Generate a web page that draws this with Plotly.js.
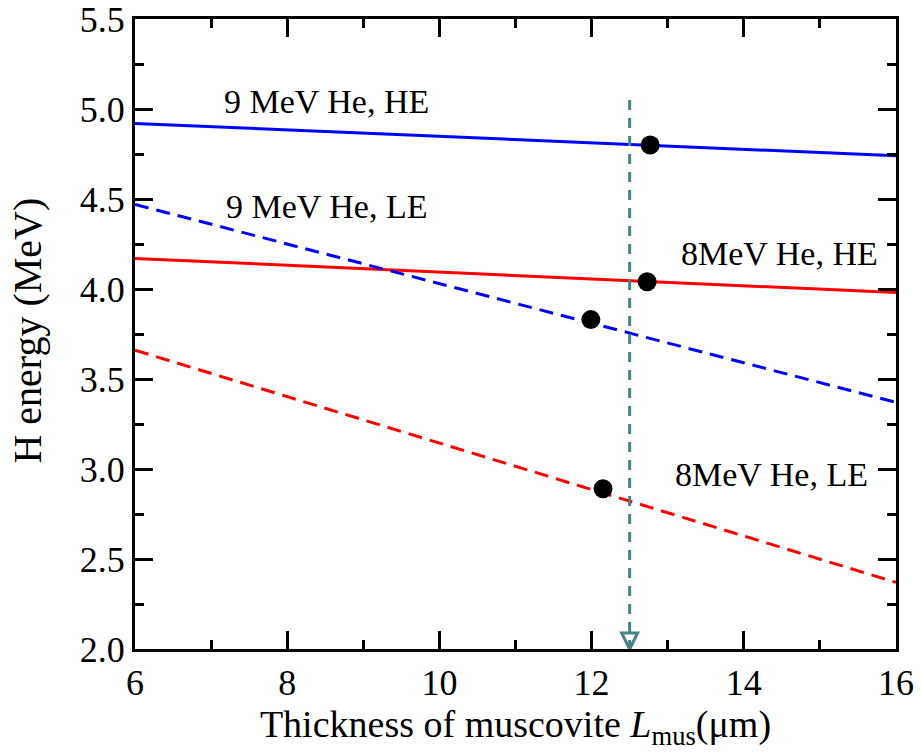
<!DOCTYPE html>
<html><head><meta charset="utf-8">
<script src="https://cdn.plot.ly/plotly-3.0.1.min.js"></script>
<style>body{margin:0;background:#fff}#chart{width:922px;height:753px}</style>
</head><body><div id="chart"></div>
<script>
// Data
const lineX = [6, 16];
const he9HE = [4.92, 4.74];
const he8HE = [4.17, 3.98];
const he9LE = [4.47, 3.37];
const he8LE = [3.66, 2.37];
const pointX = [12.77, 12.73, 11.99, 12.15];
const pointY = [4.80, 4.04, 3.83, 2.89];
const markerX = [12.5, 12.5];
const markerY = [5.05, 2.0];
const arrowTipY = [2.0];
const labelText = ['9 MeV He, HE', '9 MeV He, LE', '8MeV He, HE', '8MeV He, LE'];
const labelX = [8.51, 8.51, 14.47, 14.36];
const labelY = [5.04, 4.46, 4.20, 2.97];

const F = 'Liberation Serif';
const traces = [
  {x: lineX, y: he9HE, mode: 'lines', line: {color: '#0000ff', width: 3}},
  {x: lineX, y: he8HE, mode: 'lines', line: {color: '#ff0000', width: 3}},
  {x: lineX, y: he9LE, mode: 'lines', line: {color: '#0000ff', width: 3, dash: '14px,8px'}},
  {x: lineX, y: he8LE, mode: 'lines', line: {color: '#ff0000', width: 3, dash: '14px,8px'}},
  {x: markerX, y: markerY, mode: 'lines', line: {color: '#458585', width: 3, dash: '10px,8px'}},
  {x: [markerX[0]], y: arrowTipY, mode: 'markers', cliponaxis: false,
   marker: {symbol: 'arrow-down-open', size: 16, color: '#458585', line: {color: '#458585', width: 3}}},
  {x: pointX, y: pointY, mode: 'markers', xaxis: 'x2', marker: {color: '#000', size: 19}}
];
const annotations = labelText.map((t, i) => ({
  x: labelX[i], y: labelY[i], text: t, showarrow: false,
  font: {family: F, size: 34, color: '#000'}
}));
annotations.push({
  xref: 'paper', yref: 'paper', x: -0.141, y: 0.505, xanchor: 'center', yanchor: 'middle',
  text: 'H energy (MeV)', textangle: -90, showarrow: false,
  font: {family: F, size: 40, color: '#000'}
});
function axis(extra) {
  return Object.assign({
    showgrid: false, zeroline: false, showline: true, linecolor: '#000', linewidth: 3,
    mirror: 'ticks', ticks: 'inside', ticklen: 18, tickwidth: 3, tickcolor: '#000',
    ticklabeloverflow: 'allow',
    tickfont: {family: F, size: 36, color: '#000'}
  }, extra);
}
const xMinor = {dtick: 1, ticks: 'inside', ticklen: 9, tickwidth: 3, tickcolor: '#000'};
const layout = {
  width: 922, height: 753,
  margin: {l: 135, r: 26, t: 19, b: 104},
  paper_bgcolor: '#fff', plot_bgcolor: '#fff',
  font: {family: F, color: '#000'},
  showlegend: false,
  xaxis: axis({
    range: [6, 16], dtick: 2, tick0: 6,
    minor: xMinor,
    title: {text: 'Thickness of muscovite <i>L</i><sub>mus</sub>(μm)', font: {family: F, size: 38, color: '#000'}, standoff: 8}
  }),
  xaxis2: axis({
    overlaying: 'x', side: 'top', anchor: 'y', mirror: false,
    range: [6, 16], dtick: 2, tick0: 6, showticklabels: false,
    minor: xMinor
  }),
  yaxis: axis({
    range: [2.0, 5.5], dtick: 0.5, tick0: 2, tickformat: '.1f',
    minor: {dtick: 0.25, ticks: 'inside', ticklen: 9, tickwidth: 3, tickcolor: '#000'}
  }),
  annotations: annotations
};
Plotly.newPlot('chart', traces, layout, {displayModeBar: false, staticPlot: true});
</script>
</body></html>
